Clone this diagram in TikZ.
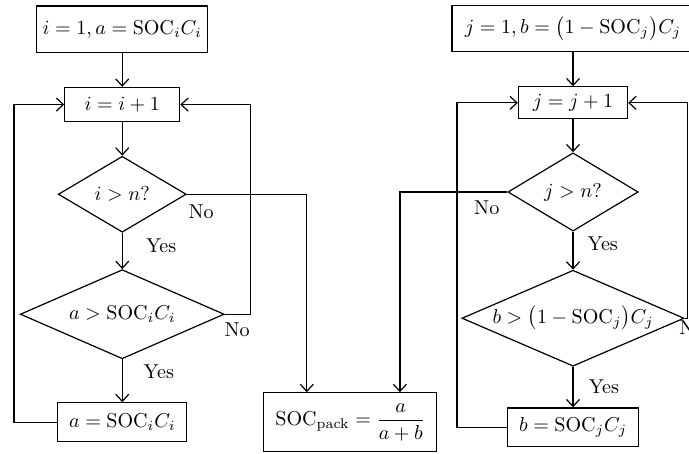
\documentclass[tikz,border=0pt]{standalone}
\usepackage{amsmath}
\usetikzlibrary{shapes.geometric,arrows.meta}

\newcommand{\soc}{\mathrm{SOC}}
\newcommand{\nowidth}[1]{\makebox[0pt]{#1}}

\begin{document}
\begin{tikzpicture}[
  line width=0.6pt,
  >={Straight Barb[length=3.5pt,width=6.5pt]},
  box/.style={draw, rectangle, inner sep=2pt, minimum height=0.6cm},
  cond/.style={draw, diamond, inner sep=0pt},
  lbl/.style={inner sep=1pt}
]
\useasboundingbox (0,0) rectangle (12.06,-7.93);

% left loop over i
\node[box, minimum width=2.99cm, minimum height=0.81cm] (i1) at (2.14,-0.51) {$i = 1, a = \soc_i C_i$};
\node[box, minimum width=2.01cm] (i2) at (2.14,-1.83) {$i = i + 1$};
\node[cond, minimum width=2.24cm, minimum height=1.33cm] (d1) at (2.14,-3.40) {\nowidth{$i > n$?}};
\node[cond, minimum width=3.57cm, minimum height=1.56cm] (d2) at (2.14,-5.50) {\nowidth{$a > \soc_i C_i$}};
\node[box, minimum width=2.26cm, minimum height=0.68cm] (i3) at (2.14,-7.39) {$a = \soc_i C_i$};
\coordinate (li) at (0.245,-1.83);
\coordinate (ri) at (4.39,-1.83);

\node[lbl] (yes1) at (2.82,-4.31) {Yes};
\node[lbl] (yes2) at (2.78,-6.51) {Yes};
\node[lbl] (no1) at (3.52,-3.71) {No};
\node[lbl] (no2) at (4.15,-5.78) {No};

\draw[->] (i1) -- (i2);
\draw[->] (i2) -- (d1);
\draw[->] (d1) -- (d2);
\draw[->] (d2) -- (i3);
\draw[->] (d2.east) -| (ri) -- (i2.east);
\draw[->] (i3.west) -| (li) -- (i2.west);

% result
\node[box, minimum width=3.03cm, minimum height=1.03cm] (pack) at (6.13,-7.39) {$\soc_{\text{pack}} = \dfrac{a}{a + b}$};
\coordinate (pa) at ([xshift=-0.76cm]pack.north);
\coordinate (pb) at ([xshift=0.87cm]pack.north);

% right loop over j
\node[box, minimum width=4.24cm, minimum height=0.81cm] (j1) at (10.03,-0.50) {$j = 1, b = \bigl(1 - \soc_j\bigr) C_j$};
\node[box, minimum width=1.91cm, minimum height=0.56cm] (j2) at (10.03,-1.80) {$j = j + 1$};
\node[cond, minimum width=2.28cm, minimum height=1.37cm] (d3) at (10.03,-3.36) {\nowidth{$j > n$?}};
\node[cond, minimum width=3.89cm, minimum height=1.68cm] (d4) at (10.03,-5.57) {\nowidth{$b > \bigl(1 - \soc_j\bigr) C_j$}};
\node[box, minimum width=2.29cm, minimum height=0.68cm] (j3) at (10.03,-7.48) {$b = \soc_j C_j$};
\coordinate (lj) at (8.0,-1.80);
\coordinate (rj) at (12.04,-1.80);

\node[lbl] (yes3) at (10.55,-4.27) {Yes};
\node[lbl] (yes4) at (10.57,-6.77) {Yes};
\node[lbl] (no3) at (8.52,-3.64) {No};
\node[lbl] (no4) at (12.11,-5.74) {No};

\draw[->] (j1) -- (j2);
\draw[->] (j2) -- (d3);
\draw[->] (d3) -- (d4);
\draw[->] (d4) -- (j3);
\draw[->] (d4.east) -| (rj) -- (j2.east);
\draw[->] (j3.west) -| (lj) -- (j2.west);

% exits to the result box
\draw[->] (d1.east) -| (pa);
\draw[->] (d3.west) -| (pb);
\end{tikzpicture}
\end{document}
